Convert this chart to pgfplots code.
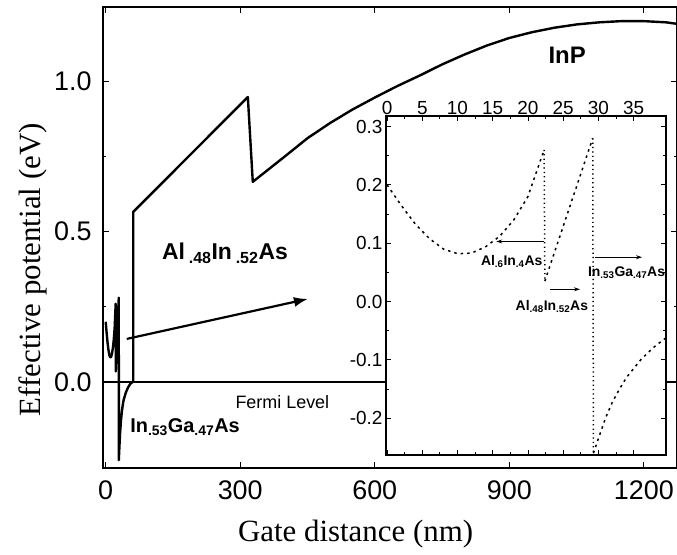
\documentclass[border=0pt]{standalone}
\usepackage{fontspec}
\setmainfont{Liberation Serif}
\setsansfont{Liberation Sans}
\usepackage{pgfplots}
\pgfplotsset{compat=1.18}
\usetikzlibrary{calc,arrows.meta}

\begin{document}
\begin{tikzpicture}
\begin{axis}[name=main, at={(0,0)}, anchor=south west,
  scale only axis, width=574bp, height=461bp,
  xmin=-6, xmax=1274, ymin=-0.286, ymax=1.246,
  xtick={0,300,...,1200}, ytick={0,0.5,1.0}, minor y tick num=1,
  tick style={black, line width=0.9bp}, major tick length=6bp, minor tick length=3.5bp,
  axis line style={line width=1.3bp},
  tick label style={font=\sffamily\fontsize{27}{30}\selectfont},
  /pgf/number format/assume math mode=true,
  /pgf/number format/set thousands separator={},
  y tick label style={xshift=-8bp, /pgf/number format/.cd, fixed, fixed zerofill, precision=1},
  x tick label style={yshift=-9bp},
  xlabel={Gate distance (nm)}, ylabel={Effective potential (eV)},
  label style={font=\rmfamily\fontsize{31}{34}\selectfont},
  xlabel style={at={(axis description cs:0.44,0)}, anchor=center, yshift=-66bp},
  ylabel style={at={(axis description cs:-0.122,0.43)}, anchor=center},
  clip=true,
]
% Fermi level
\addplot[black, line width=1.3bp] coordinates {(-6,0) (1274,0)};
% band profile
\addplot[black, line width=2.4bp, line join=round] coordinates {
 (0,0.2) (2,0.165) (4,0.133) (6,0.108) (8,0.09) (10,0.082) (12,0.083) (14,0.094)
 (16,0.112) (18,0.14) (20,0.18) (22.3,0.26) (22.4,0.035) (29.2,0.28) (29.3,-0.26)
 (30,-0.235) (32,-0.172) (34,-0.13) (36,-0.1) (38,-0.077) (40,-0.06) (45,-0.035)
 (50,-0.018) (55,-0.006) (60,0.0) (61.5,0.0) (61.5,0.565) (317,0.947) (328,0.665)
 (400,0.75) (450,0.81) (500,0.86) (550,0.905) (600,0.945) (650,0.983) (700,1.018)
 (750,1.055) (800,1.088) (850,1.118) (900,1.143) (950,1.162) (1000,1.177)
 (1050,1.188) (1100,1.195) (1150,1.199) (1200,1.199) (1250,1.195) (1274,1.19)
};
\draw[black, line width=2.2bp, -{Latex[length=14bp,width=10bp]}] (axis cs:47,0.143) -- (axis cs:451,0.276);
\node[font=\sffamily\bfseries\fontsize{24}{26}\selectfont] at (axis cs:1029,1.086) {InP};
\node[font=\sffamily\bfseries\fontsize{23}{26}\selectfont] at (axis cs:266,0.428) {Al\,\textsubscript{.48}In\,\textsubscript{.52}As};
\node[font=\sffamily\bfseries\fontsize{20}{24}\selectfont] at (axis cs:177,-0.15) {In\textsubscript{.53}Ga\textsubscript{.47}As};
\node[font=\sffamily\fontsize{18}{20}\selectfont] at (axis cs:394,-0.066) {Fermi Level};
\end{axis}

\begin{axis}[name=inset, at={($(main.south west)+(283bp,13bp)$)}, anchor=south west,
  scale only axis, width=280bp, height=339bp,
  axis background/.style={fill=white},
  xmin=-0.15, xmax=39.6, ymin=-0.263, ymax=0.318,
  xtick={0,5,...,35}, ytick={-0.2,-0.1,0,0.1,0.2,0.3},
  minor x tick num=1, minor y tick num=1,
  xticklabel pos=top,
  tick style={black, line width=0.8bp}, major tick length=5bp, minor tick length=3bp,
  axis line style={line width=1.1bp},
  tick label style={font=\sffamily\fontsize{19}{21}\selectfont},
  /pgf/number format/assume math mode=true,
  y tick label style={/pgf/number format/.cd, fixed, fixed zerofill, precision=1},
  x tick label style={yshift=-2bp},
]
\addplot[black, line width=1.5bp, dash pattern=on 2.5bp off 4bp] coordinates {
 (0,0.2) (2,0.165) (4,0.133) (6,0.108) (8,0.09) (10,0.082) (12,0.083) (14,0.094)
 (16,0.112) (18,0.14) (20,0.18) (22.3,0.26)};
\addplot[black, line width=1.5bp, dash pattern=on 1.2bp off 3.2bp] coordinates {(22.3,0.26) (22.4,0.035)};
\addplot[black, line width=1.5bp, dash pattern=on 2.5bp off 4bp] coordinates {(22.4,0.035) (29.2,0.28)};
\addplot[black, line width=1.5bp, dash pattern=on 1.2bp off 3.2bp] coordinates {(29.2,0.28) (29.3,-0.26)};
\addplot[black, line width=1.5bp, dash pattern=on 2.5bp off 4bp] coordinates {
 (29.3,-0.26) (30,-0.235) (31,-0.2) (32,-0.172) (33,-0.15) (34,-0.13) (35,-0.115)
 (36,-0.1) (37,-0.088) (38,-0.077) (39.5,-0.063)};
\draw[black, line width=0.8bp, -{Stealth[length=6bp,width=4bp]}] (axis cs:22.3,0.103) -- (axis cs:15.5,0.103);
\draw[black, line width=0.8bp, -{Stealth[length=6bp,width=4bp]}] (axis cs:23.1,0.021) -- (axis cs:27.4,0.021);
\draw[black, line width=0.8bp, -{Stealth[length=6bp,width=4bp]}] (axis cs:29.5,0.076) -- (axis cs:36.2,0.076);
\node[font=\sffamily\bfseries\fontsize{14}{16}\selectfont] at (axis cs:17.7,0.069) {Al\textsubscript{.6}In\textsubscript{.4}As};
\node[font=\sffamily\bfseries\fontsize{14}{16}\selectfont] at (axis cs:23.4,-0.009) {Al\textsubscript{.48}In\textsubscript{.52}As};
\node[font=\sffamily\bfseries\fontsize{14}{16}\selectfont] at (axis cs:34,0.05) {In\textsubscript{.53}Ga\textsubscript{.47}As};
\end{axis}
\pgfresetboundingbox
\path ($(main.south west)+(-103bp,-87bp)$) rectangle ($(main.north east)+(0bp,7bp)$);
\end{tikzpicture}
\end{document}
